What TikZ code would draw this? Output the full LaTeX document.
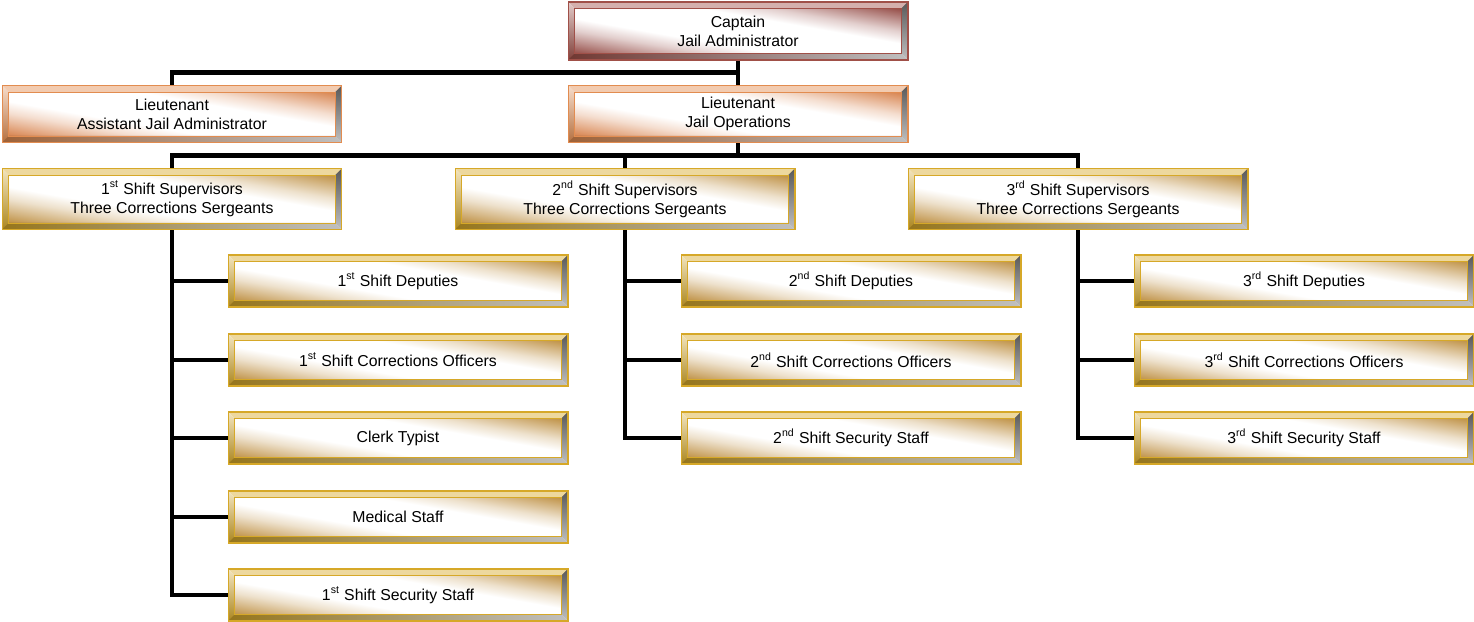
\documentclass[tikz,border=0pt]{standalone}
\usepackage{fontspec}
\setmainfont{Liberation Sans}
\usetikzlibrary{calc}

\definecolor{capred}{RGB}{160,80,72}
\definecolor{ltorange}{RGB}{226,140,80}
\definecolor{sgtgold}{RGB}{214,168,40}
\definecolor{capface}{RGB}{140,62,56}
\definecolor{ltface}{RGB}{212,120,62}
\definecolor{sgtface}{RGB}{185,135,52}
\newcommand\bv{0.13cm}

% face shadings: colour in two corners, white through the middle
\pgfdeclareverticalshading{capshade}{100bp}{color(0bp)=(capface); color(25bp)=(capface!90!white); color(30bp)=(capface!60!white); color(36bp)=(capface!25!white); color(42bp)=(white); color(58bp)=(white); color(64bp)=(capface!25!white); color(70bp)=(capface!60!white); color(75bp)=(capface!90!white); color(100bp)=(capface)}
\pgfdeclareverticalshading{ltshade}{100bp}{color(0bp)=(ltface); color(25bp)=(ltface!90!white); color(30bp)=(ltface!60!white); color(36bp)=(ltface!25!white); color(42bp)=(white); color(58bp)=(white); color(64bp)=(ltface!25!white); color(70bp)=(ltface!60!white); color(75bp)=(ltface!90!white); color(100bp)=(ltface)}
\pgfdeclareverticalshading{sgtshade}{100bp}{color(0bp)=(sgtface); color(25bp)=(sgtface!90!white); color(30bp)=(sgtface!60!white); color(36bp)=(sgtface!25!white); color(42bp)=(white); color(58bp)=(white); color(64bp)=(sgtface!25!white); color(70bp)=(sgtface!60!white); color(75bp)=(sgtface!90!white); color(100bp)=(sgtface)}

\tikzset{
  plaque/.style 2 args={draw=#1, line width=0.6pt, inner sep=0pt, align=center,
    shade, shading=#2, shading angle=-10,
    font=\fontsize{9}{10.8}\selectfont,
    path picture={
      \path (path picture bounding box.north west) coordinate (pnw)
            (path picture bounding box.north east) coordinate (pne)
            (path picture bounding box.south west) coordinate (psw)
            (path picture bounding box.south east) coordinate (pse);
      \path ($(pnw)+(\bv,-\bv)$) coordinate (inw) ($(pne)+(-\bv,-\bv)$) coordinate (ine)
            ($(psw)+(\bv,\bv)$) coordinate (isw) ($(pse)+(-\bv,\bv)$) coordinate (ise);
      \fill[#1!45!white] (pnw) -- (pne) -- (ine) -- (inw) -- cycle;
      \shade[top color=#1!30!white, bottom color=#1!80!black] (pnw) -- (inw) -- (isw) -- (psw) -- cycle;
      \shade[top color=black!65, bottom color=black!25] (pne) -- (pse) -- (ise) -- (ine) -- cycle;
      \shade[left color=#1!70!black, right color=black!25] (psw) -- (pse) -- (ise) -- (isw) -- cycle;
      \draw[#1, line width=0.4pt] (inw) rectangle (ise);
    }},
  capbox/.style={plaque={capred}{capshade}},
  ltbox/.style={plaque={ltorange}{ltshade}},
  sgtbox/.style={plaque={sgtgold}{sgtshade}},
  wide/.style={minimum width=6.8cm, minimum height=#1},
  conn/.style={line width=2.8pt}
}

\begin{document}
\begin{tikzpicture}[x=0.02cm, y=-0.02cm]
\useasboundingbox (0,0) rectangle (1474,622);

% top of the chart
\node[capbox, wide=1.16cm] (cap) at (738,31) {Captain\\Jail Administrator};
\node[ltbox, wide=1.14cm] (ltasst) at (172,114) {Lieutenant\\Assistant Jail Administrator};
\node[ltbox, wide=1.14cm] (ltops) at (738,114) {Lieutenant\\Jail Operations};

% shift supervisors
\foreach \name/\x/\ord in {s1/172/1\textsuperscript{st}, s2/625/2\textsuperscript{nd}, s3/1078/3\textsuperscript{rd}} {
    \node[sgtbox, wide=1.22cm] (\name) at (\x,199) {\ord{} Shift Supervisors\\Three Corrections Sergeants};
}

% staff under each shift
\foreach \s/\x/\ord in {1/398/st, 2/851/nd, 3/1304/rd} {
    \node[sgtbox, wide=1.04cm] (dep\s) at (\x,281) {\s\textsuperscript{\ord} Shift Deputies};
    \node[sgtbox, wide=1.04cm] (off\s) at (\x,360) {\s\textsuperscript{\ord} Shift Corrections Officers};
}
\node[sgtbox, wide=1.04cm] (clerk) at (398,438) {Clerk Typist};
\node[sgtbox, wide=1.04cm] (med) at (398,517) {Medical Staff};
\node[sgtbox, wide=1.04cm] (sec1) at (398,595) {1\textsuperscript{st} Shift Security Staff};
\node[sgtbox, wide=1.04cm] (sec2) at (851,438) {2\textsuperscript{nd} Shift Security Staff};
\node[sgtbox, wide=1.04cm] (sec3) at (1304,438) {3\textsuperscript{rd} Shift Security Staff};

% connectors
\coordinate (j1) at ($(cap.south)!0.5!(ltops.north)$);
\coordinate (j2) at ($(ltops.south)!0.5!(ltops.south |- s1.north)$);
\draw[conn] (cap.south) -- (ltops.north);
\draw[conn] (ltasst.north) |- (j1);
\draw[conn] (ltops.south) -- (j2);
\foreach \name in {s1,s2,s3} {
    \draw[conn] (\name.north) |- (j2);
}
\foreach \source/\dest in {s1/dep1, s1/off1, s1/clerk, s1/med, s1/sec1, s2/dep2, s2/off2, s2/sec2, s3/dep3, s3/off3, s3/sec3} {
    \draw[conn] (\source.south) |- (\dest.west);
}

\end{tikzpicture}
\end{document}
